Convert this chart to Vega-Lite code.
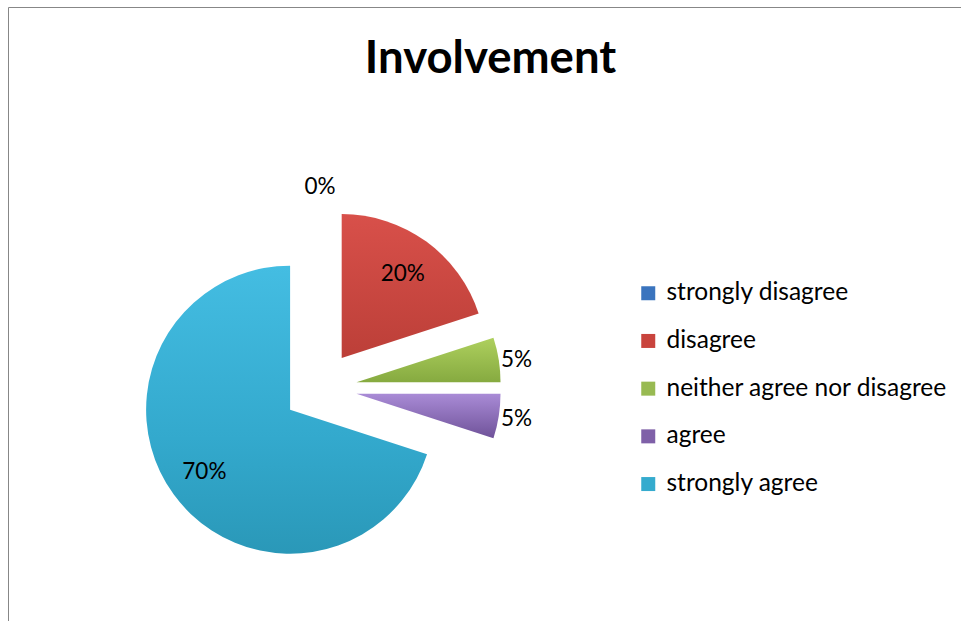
{
  "$schema": "https://vega.github.io/schema/vega-lite/v6.json",
  "width": 953,
  "height": 614,
  "autosize": {"type": "none"},
  "padding": {"left": 8, "top": 7, "right": 0, "bottom": 0},
  "background": "white",
  "title": {"text": "Involvement", "anchor": "middle", "frame": "group", "orient": "top", "baseline": "alphabetic", "offset": 0, "dy": 111, "dx": 6, "font": "Lato", "fontSize": 45.5, "fontWeight": "bold", "color": "#000000"},
  "data": {"values": [
    {"category": "strongly disagree", "share": 0, "label": "0%"},
    {"category": "disagree", "share": 0.2, "label": "20%"},
    {"category": "neither agree nor disagree", "share": 0.05, "label": "5%"},
    {"category": "agree", "share": 0.05, "label": "5%"},
    {"category": "strongly agree", "share": 0.7, "label": "70%"}
  ]},
  "transform": [{"stack": "share", "groupby": [], "as": ["v0", "v1"]}],
  "layer": [
    {
      "transform": [{"filter": {"field": "category", "equal": "strongly disagree"}}],
      "mark": {"type": "arc", "radius": 144, "xOffset": -164.5, "yOffset": 37},
      "encoding": {
        "theta": {"field": "v0", "type": "quantitative", "scale": {"domain": [0, 1]}},
        "theta2": {"field": "v1"},
        "color": {"field": "category", "type": "nominal",
          "scale": {"domain": ["strongly disagree", "disagree", "neither agree nor disagree", "agree", "strongly agree"],
            "range": ["#3A74BE", "#C9443D", "#98BA52", "#7F60A8", "#35ABCE"]},
          "legend": {"title": null, "orient": "none", "legendX": 628, "legendY": 274, "symbolType": "square", "symbolSize": 196, "symbolStrokeWidth": 0, "symbolOpacity": 1, "labelFont": "Lato", "labelFontSize": 24.5, "labelColor": "#000000", "rowPadding": 22.7, "labelOffset": 6, "padding": 0, "labelLimit": 400}}
      }
    },
    {
      "transform": [{"filter": {"field": "category", "equal": "disagree"}}],
      "mark": {"type": "arc", "radius": 144, "xOffset": -142.8, "yOffset": 44.1,
        "fill": {"gradient": "linear", "x1": 0, "y1": 0, "x2": 0, "y2": 1, "stops": [{"offset": 0, "color": "#D8504A"}, {"offset": 1, "color": "#BC3F38"}]}},
      "encoding": {
        "theta": {"field": "v0", "type": "quantitative", "scale": {"domain": [0, 1]}},
        "theta2": {"field": "v1"}
      }
    },
    {
      "transform": [{"filter": {"field": "category", "equal": "neither agree nor disagree"}}],
      "mark": {"type": "arc", "radius": 144, "xOffset": -128, "yOffset": 68.2,
        "fill": {"gradient": "linear", "x1": 0, "y1": 0, "x2": 0, "y2": 1, "stops": [{"offset": 0, "color": "#AED05E"}, {"offset": 1, "color": "#86AA40"}]}},
      "encoding": {
        "theta": {"field": "v0", "type": "quantitative", "scale": {"domain": [0, 1]}},
        "theta2": {"field": "v1"}
      }
    },
    {
      "transform": [{"filter": {"field": "category", "equal": "agree"}}],
      "mark": {"type": "arc", "radius": 144, "xOffset": -128, "yOffset": 79.8,
        "fill": {"gradient": "linear", "x1": 0, "y1": 0, "x2": 0, "y2": 1, "stops": [{"offset": 0, "color": "#A98BD6"}, {"offset": 1, "color": "#6F5299"}]}},
      "encoding": {
        "theta": {"field": "v0", "type": "quantitative", "scale": {"domain": [0, 1]}},
        "theta2": {"field": "v1"}
      }
    },
    {
      "transform": [{"filter": {"field": "category", "equal": "strongly agree"}}],
      "mark": {"type": "arc", "radius": 144, "xOffset": -194.4, "yOffset": 95.7,
        "fill": {"gradient": "linear", "x1": 0, "y1": 0, "x2": 0, "y2": 1, "stops": [{"offset": 0, "color": "#44BDE2"}, {"offset": 0.6, "color": "#33A9CD"}, {"offset": 1, "color": "#2A98B8"}]}},
      "encoding": {
        "theta": {"field": "v0", "type": "quantitative", "scale": {"domain": [0, 1]}},
        "theta2": {"field": "v1"}
      }
    },
    {
      "mark": {"type": "text", "radius": 164, "xOffset": -164.5, "yOffset": 37, "font": "Lato", "fontSize": 22.5, "color": "#000000"},
      "encoding": {
        "theta": {"field": "share", "type": "quantitative", "stack": true, "scale": {"domain": [0, 1]}},
        "order": {"field": "v1", "type": "quantitative"},
        "detail": {"field": "category"},
        "text": {"condition": {"test": "datum.category === 'strongly disagree'", "field": "label"}, "value": ""}
      }
    },
    {
      "mark": {"type": "text", "radius": 104, "xOffset": -142.8, "yOffset": 44.1, "font": "Lato", "fontSize": 22.5, "color": "#000000"},
      "encoding": {
        "theta": {"field": "share", "type": "quantitative", "stack": true, "scale": {"domain": [0, 1]}},
        "order": {"field": "v1", "type": "quantitative"},
        "detail": {"field": "category"},
        "text": {"condition": {"test": "datum.category === 'disagree'", "field": "label"}, "value": ""}
      }
    },
    {
      "mark": {"type": "text", "radius": 162, "xOffset": -128, "yOffset": 71, "font": "Lato", "fontSize": 22.5, "color": "#000000"},
      "encoding": {
        "theta": {"field": "share", "type": "quantitative", "stack": true, "scale": {"domain": [0, 1]}},
        "order": {"field": "v1", "type": "quantitative"},
        "detail": {"field": "category"},
        "text": {"condition": {"test": "datum.category === 'neither agree nor disagree'", "field": "label"}, "value": ""}
      }
    },
    {
      "mark": {"type": "text", "radius": 162, "xOffset": -128, "yOffset": 79.8, "font": "Lato", "fontSize": 22.5, "color": "#000000"},
      "encoding": {
        "theta": {"field": "share", "type": "quantitative", "stack": true, "scale": {"domain": [0, 1]}},
        "order": {"field": "v1", "type": "quantitative"},
        "detail": {"field": "category"},
        "text": {"condition": {"test": "datum.category === 'agree'", "field": "label"}, "value": ""}
      }
    },
    {
      "mark": {"type": "text", "radius": 106, "xOffset": -194.4, "yOffset": 95.7, "font": "Lato", "fontSize": 22.5, "color": "#000000"},
      "encoding": {
        "theta": {"field": "share", "type": "quantitative", "stack": true, "scale": {"domain": [0, 1]}},
        "order": {"field": "v1", "type": "quantitative"},
        "detail": {"field": "category"},
        "text": {"condition": {"test": "datum.category === 'strongly agree'", "field": "label"}, "value": ""}
      }
    }
  ],
  "config": {
    "view": {"stroke": "#878787", "strokeWidth": 1},
    "style": {"view": {"stroke": "#878787", "strokeWidth": 1}}
  }
}
